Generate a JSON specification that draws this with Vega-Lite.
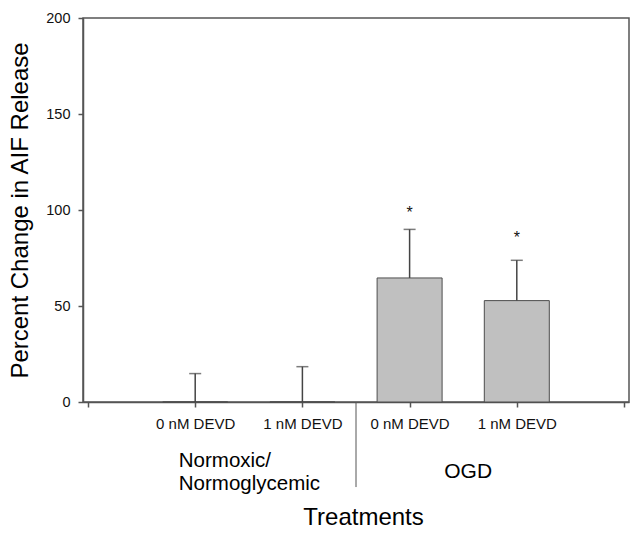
{
  "$schema": "https://vega.github.io/schema/vega-lite/v6.json",
  "width": 546,
  "height": 384,
  "autosize": {"type": "none"},
  "padding": {"left": 83, "top": 18, "right": 11, "bottom": 132},
  "background": "white",
  "config": {
    "font": "Liberation Sans",
    "view": {"stroke": "#555555", "strokeWidth": 1.5},
    "axis": {
      "grid": false,
      "domainColor": "#555555",
      "domainWidth": 1.5,
      "tickColor": "#555555",
      "tickWidth": 1.5,
      "tickSize": 5,
      "labelColor": "#111111",
      "titleColor": "#000000",
      "titleFontWeight": "normal",
      "labelFont": "Liberation Sans",
      "titleFont": "Liberation Sans"
    }
  },
  "data": {
    "values": [
      {"pos": 1, "group": "Normoxic/Normoglycemic", "treatment": "0 nM DEVD", "value": 0, "upper": 14.8},
      {"pos": 2, "group": "Normoxic/Normoglycemic", "treatment": "1 nM DEVD", "value": 0, "upper": 18.4},
      {"pos": 3, "group": "OGD", "treatment": "0 nM DEVD", "value": 64.6, "upper": 89.9, "star": 100.3},
      {"pos": 4, "group": "OGD", "treatment": "1 nM DEVD", "value": 52.8, "upper": 73.8, "star": 87.3}
    ]
  },
  "encoding": {
    "x": {
      "field": "pos",
      "type": "quantitative",
      "scale": {"domain": [0, 5], "nice": false, "zero": false},
      "axis": {
        "values": [0, 1, 2, 3, 4, 5],
        "labelExpr": "datum.value == 1 || datum.value == 3 ? '0 nM DEVD' : (datum.value == 2 || datum.value == 4 ? '1 nM DEVD' : '')",
        "labelFontSize": 15,
        "labelPadding": 9,
        "labelFlush": false,
        "labelOverlap": false,
        "title": "Treatments",
        "titleFontSize": 24,
        "titleX": 280,
        "titleY": 115,
        "titleBaseline": "middle",
        "titleAlign": "center"
      }
    }
  },
  "layer": [
    {
      "mark": {"type": "bar", "size": 65, "fill": "#c0c0c0", "stroke": "#4d4d4d", "strokeWidth": 1},
      "encoding": {
        "y": {
          "field": "value",
          "type": "quantitative",
          "scale": {"domain": [0, 200], "nice": false},
          "axis": {
            "values": [0, 50, 100, 150, 200],
            "labelFontSize": 14.5,
            "labelPadding": 8,
            "title": "Percent Change in AIF Release",
            "titleFontSize": 24,
            "titleX": -63,
            "titleY": 192,
            "titleAngle": -90,
            "titleBaseline": "middle",
            "titleAlign": "center"
          }
        }
      }
    },
    {
      "mark": {"type": "rule", "color": "#444444", "strokeWidth": 1.5},
      "encoding": {
        "y": {"field": "value", "type": "quantitative"},
        "y2": {"field": "upper"}
      }
    },
    {
      "mark": {"type": "tick", "orient": "horizontal", "size": 12, "thickness": 1.5, "color": "#444444"},
      "encoding": {
        "y": {"field": "upper", "type": "quantitative"}
      }
    },
    {
      "transform": [{"filter": "isValid(datum.star)"}],
      "mark": {"type": "text", "text": "*", "fontSize": 16, "baseline": "alphabetic", "dy": 9, "color": "#111111"},
      "encoding": {
        "y": {"field": "star", "type": "quantitative"}
      }
    },
    {
      "data": {"values": [{"boundary": 2.5}]},
      "mark": {"type": "rule", "color": "#555555", "strokeWidth": 1},
      "encoding": {
        "x": {"field": "boundary", "type": "quantitative"},
        "y": {"datum": -0.5},
        "y2": {"datum": -44.3}
      }
    },
    {
      "data": {"values": [{"label": "Normoxic/\nNormoglycemic", "center": 1.5}]},
      "mark": {"type": "text", "align": "left", "baseline": "middle", "dx": -70, "fontSize": 20.5, "lineHeight": 22.5, "lineBreak": "\n", "color": "#000000"},
      "encoding": {
        "x": {"field": "center", "type": "quantitative"},
        "y": {"datum": -30.8},
        "text": {"field": "label"}
      }
    },
    {
      "data": {"values": [{"label": "OGD", "center": 3.5}]},
      "mark": {"type": "text", "align": "center", "baseline": "middle", "dx": 5, "fontSize": 21, "color": "#000000"},
      "encoding": {
        "x": {"field": "center", "type": "quantitative"},
        "y": {"datum": -36.3},
        "text": {"field": "label"}
      }
    }
  ]
}
